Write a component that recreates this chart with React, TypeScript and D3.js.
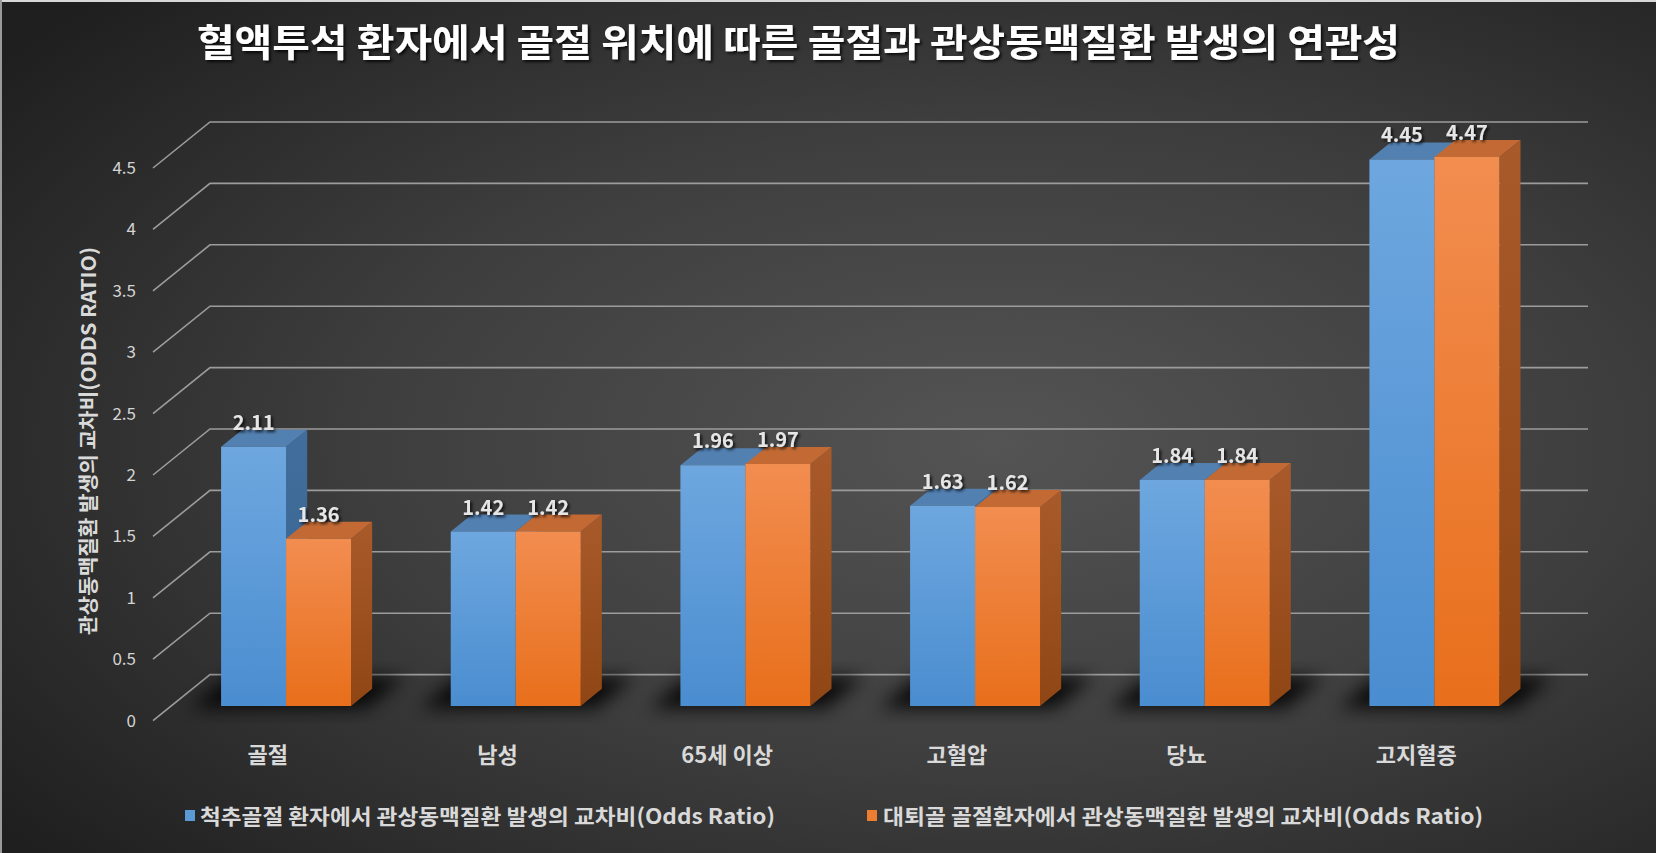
import * as d3 from "d3";
import React, { useEffect, useRef } from "react";

const categories = ["골절", "남성", "65세 이상", "고혈압", "당뇨", "고지혈증"];
const spineOR = [2.11, 1.42, 1.96, 1.63, 1.84, 4.45];
const hipOR = [1.36, 1.42, 1.97, 1.62, 1.84, 4.47];
const seriesKeys = ["spine", "hip"];
const seriesNames = [
  "척추골절 환자에서 관상동맥질환 발생의 교차비(Odds Ratio)",
  "대퇴골 골절환자에서 관상동맥질환 발생의 교차비(Odds Ratio)",
];
const yTicks = [0, 0.5, 1, 1.5, 2, 2.5, 3, 3.5, 4, 4.5];
const title = "혈액투석 환자에서 골절 위치에 따른 골절과 관상동맥질환 발생의 연관성";
const yTitle = "관상동맥질환 발생의 교차비(ODDS RATIO)";

const FONT = "'Noto Sans CJK KR', 'Noto Sans', sans-serif";

export default function App() {
  const ref = useRef<SVGSVGElement | null>(null);

  useEffect(() => {
    const svg = d3.select(ref.current);
    svg.selectAll("*").remove();

    const W = 1656;
    const H = 853;
    // depth offsets of the 3d box
    const DX = 57;
    const DY = 46;
    const Z0 = 0.32;
    const Z1 = 0.69;

    const y = d3.scaleLinear().domain([0, 4.5]).range([720.6, 720.6 - 4.5 * 122.8]);
    const x0 = d3.scaleBand().domain(categories).range([153, 1531]);
    const x1 = d3
      .scaleBand()
      .domain(seriesKeys)
      .range([0, x0.bandwidth()])
      .paddingOuter(0.767);
    const P = (x: number, v: number, z: number) => [x + z * DX, y(v) - z * DY];
    const poly = (pts: number[][]) => pts.map((p) => p.join(",")).join(" ");

    const defs = svg.append("defs");
    const bg = defs
      .append("radialGradient")
      .attr("id", "bg")
      .attr("cx", "0.6")
      .attr("cy", "0.52")
      .attr("r", "0.75");
    bg.append("stop").attr("offset", "0").attr("stop-color", "#545454");
    bg.append("stop").attr("offset", "0.5").attr("stop-color", "#3e3e3e");
    bg.append("stop").attr("offset", "1").attr("stop-color", "#1f1f1f");

    const grad = (id: string, top: string, bottom: string) => {
      const g = defs
        .append("linearGradient")
        .attr("id", id)
        .attr("x1", 0)
        .attr("y1", 0)
        .attr("x2", 0)
        .attr("y2", 1);
      g.append("stop").attr("offset", "0").attr("stop-color", top);
      g.append("stop").attr("offset", "1").attr("stop-color", bottom);
    };
    grad("frontBlue", "#6ea7df", "#4a8dd0");
    grad("frontOrange", "#f28d50", "#e86f1b");
    grad("sideBlue", "#416e9c", "#37628f");
    grad("sideOrange", "#a95a2b", "#904614");

    const colors: Record<string, { front: string; side: string; top: string; solid: string }> = {
      spine: { front: "url(#frontBlue)", side: "url(#sideBlue)", top: "#5280b1", solid: "#5b9bd5" },
      hip: { front: "url(#frontOrange)", side: "url(#sideOrange)", top: "#c36a34", solid: "#ed7d31" },
    };

    defs
      .append("filter")
      .attr("id", "blur")
      .attr("x", "-50%")
      .attr("y", "-50%")
      .attr("width", "200%")
      .attr("height", "200%")
      .append("feGaussianBlur")
      .attr("stdDeviation", 9);

    const ts = defs.append("filter").attr("id", "tshadow");
    ts.append("feDropShadow")
      .attr("dx", 2)
      .attr("dy", 2)
      .attr("stdDeviation", 1.5)
      .attr("flood-color", "#000")
      .attr("flood-opacity", 0.8);

    // background
    svg.append("rect").attr("width", W).attr("height", H).attr("fill", "url(#bg)");
    svg.append("line").attr("x1", 0).attr("x2", W).attr("y1", 1).attr("y2", 1).attr("stroke", "#d8d8d8").attr("stroke-width", 2);
    svg.append("line").attr("x1", 1).attr("x2", 1).attr("y1", 0).attr("y2", H).attr("stroke", "#9a9a9a").attr("stroke-width", 2);

    // gridlines: left wall diagonals + back wall
    const grid = svg.append("g").attr("stroke", "#9c9c9c").attr("stroke-width", 1.6).attr("fill", "none");
    const xStart = x0.range()[0];
    const xEnd = x0.range()[1];
    yTicks.forEach((t) => {
      const a = P(xStart, t, 0);
      const b = P(xStart, t, 1);
      const c = P(xEnd, t, 1);
      grid.append("polyline").attr("points", poly([a, b, c]));
    });

    // tick labels
    svg
      .append("g")
      .selectAll("text")
      .data(yTicks)
      .enter()
      .append("text")
      .attr("x", 136)
      .attr("y", (d) => y(d))
      .attr("dy", "0.35em")
      .attr("text-anchor", "end")
      .attr("font-family", FONT)
      .attr("font-size", 17)
      .attr("fill", "#d4d4d4")
      .text((d) => String(d));

    // floor shadows
    const shadows = svg.append("g").attr("filter", "url(#blur)").attr("fill", "#000").attr("opacity", 0.85);
    categories.forEach((c) => {
      const l = x0(c)! + x1(seriesKeys[0])! - 28;
      const r = x0(c)! + x1(seriesKeys[1])! + x1.bandwidth() + 18;
      shadows
        .append("polygon")
        .attr("points", poly([P(l, 0, Z0 - 0.05), P(r, 0, Z0 - 0.05), P(r, 0, Z1 + 0.25), P(l, 0, Z1 + 0.25)]));
    });

    // bars
    const bars = svg.append("g");
    const labels = svg.append("g");
    categories.forEach((c, i) => {
      const vals = [spineOR[i], hipOR[i]];
      seriesKeys.forEach((k, s) => {
        const v = vals[s];
        const xl = x0(c)! + x1(k)!;
        const xr = xl + x1.bandwidth();
        const col = colors[k];
        bars
          .append("polygon")
          .attr("points", poly([P(xr, 0, Z0), P(xr, 0, Z1), P(xr, v, Z1), P(xr, v, Z0)]))
          .attr("fill", col.side);
        bars
          .append("polygon")
          .attr("points", poly([P(xl, v, Z0), P(xr, v, Z0), P(xr, v, Z1), P(xl, v, Z1)]))
          .attr("fill", col.top);
        bars
          .append("polygon")
          .attr("points", poly([P(xl, 0, Z0), P(xr, 0, Z0), P(xr, v, Z0), P(xl, v, Z0)]))
          .attr("fill", col.front);
        const [lx, ly] = P((xl + xr) / 2, v, Z0);
        labels
          .append("text")
          .attr("x", lx)
          .attr("y", ly - 17)
          .attr("text-anchor", "middle")
          .attr("font-family", FONT)
          .attr("font-size", 20)
          .attr("font-weight", "bold")
          .attr("fill", "#e6e6e6")
          .attr("filter", "url(#tshadow)")
          .text(v.toFixed(2));
      });
    });

    // category labels
    svg
      .append("g")
      .selectAll("text")
      .data(categories)
      .enter()
      .append("text")
      .attr("x", (d) => x0(d)! + x0.bandwidth() / 2)
      .attr("y", 763)
      .attr("text-anchor", "middle")
      .attr("font-family", FONT)
      .attr("font-size", 22)
      .attr("font-weight", "bold")
      .attr("fill", "#d9d9d9")
      .text((d) => d);

    // y axis title
    svg
      .append("text")
      .attr("transform", "translate(89,441) rotate(-90)")
      .attr("text-anchor", "middle")
      .attr("dy", "0.35em")
      .attr("font-family", FONT)
      .attr("font-size", 20)
      .attr("font-weight", "bold")
      .attr("fill", "#d9d9d9")
      .attr("textLength", 388)
      .attr("lengthAdjust", "spacingAndGlyphs")
      .text(yTitle);

    // title
    svg
      .append("text")
      .attr("x", 197)
      .attr("y", 56)
      .attr("font-family", FONT)
      .attr("font-size", 38)
      .attr("font-weight", "bold")
      .attr("fill", "#ffffff")
      .attr("filter", "url(#tshadow)")
      .attr("textLength", 1203)
      .attr("lengthAdjust", "spacingAndGlyphs")
      .text(title);

    // legend
    const legendPos = [
      { mx: 185, tx: 200, len: 575 },
      { mx: 867, tx: 883, len: 600 },
    ];
    seriesKeys.forEach((k, s) => {
      const p = legendPos[s];
      svg
        .append("rect")
        .attr("x", p.mx)
        .attr("y", 810)
        .attr("width", 10)
        .attr("height", 11)
        .attr("fill", colors[k].solid);
      svg
        .append("text")
        .attr("x", p.tx)
        .attr("y", 824)
        .attr("font-family", FONT)
        .attr("font-size", 21)
        .attr("font-weight", "bold")
        .attr("fill", "#d9d9d9")
        .attr("textLength", p.len)
        .attr("lengthAdjust", "spacingAndGlyphs")
        .text(seriesNames[s]);
    });
  }, []);

  return (
    <svg
      ref={ref}
      width={1656}
      height={853}
      style={{ position: "absolute", left: 0, top: 0, display: "block" }}
    />
  );
}
